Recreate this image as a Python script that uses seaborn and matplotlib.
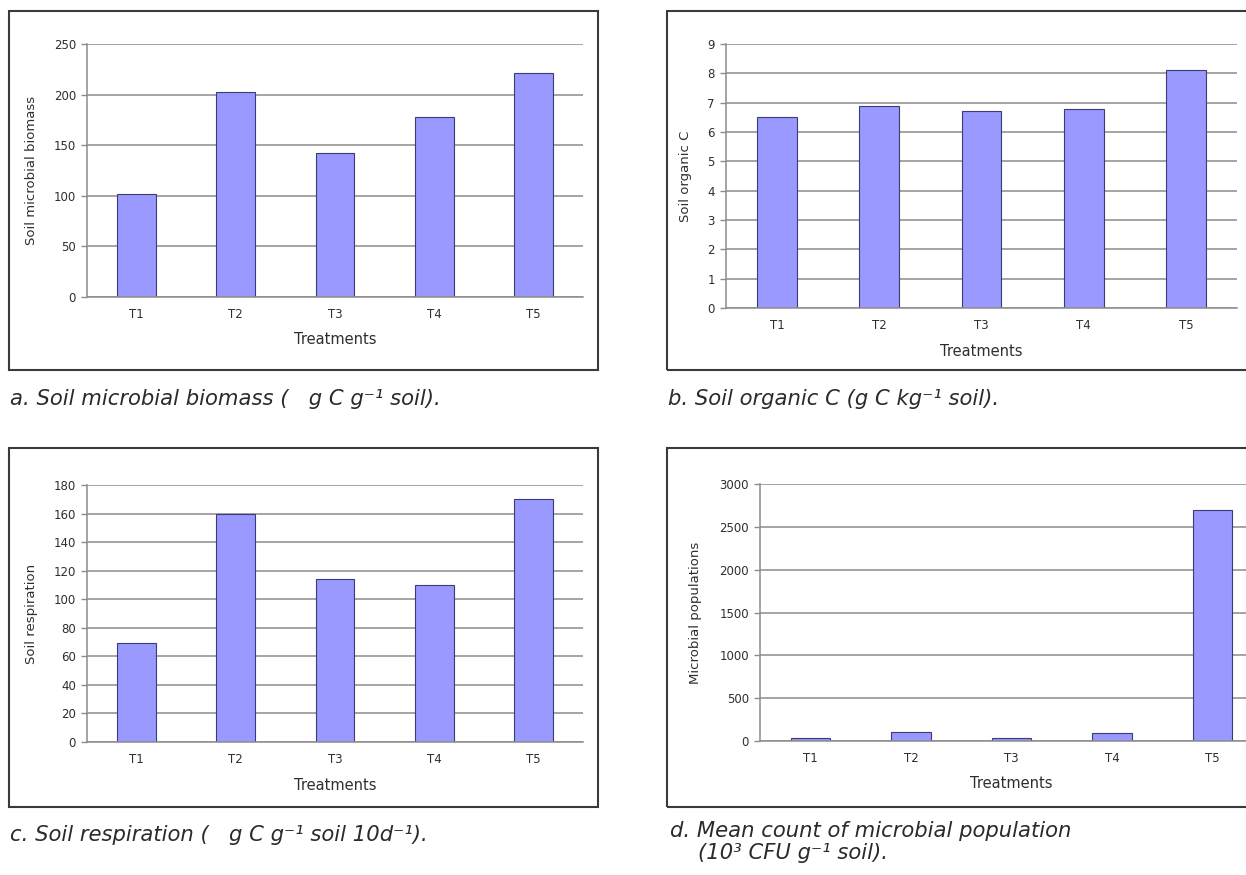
import os
import numpy as np
import pandas as pd
import seaborn as sns
import matplotlib
import matplotlib.pyplot as plt
from matplotlib.patches import Rectangle
from matplotlib.font_manager import FontProperties

# ---------------------------------------
# 1. Data
# ---------------------------------------
treatments = ["T1", "T2", "T3", "T4", "T5"]
biomass = [102, 203, 142, 178, 221]
organic_c = [6.5, 6.9, 6.7, 6.8, 8.1]
respiration = [69, 160, 114, 110, 170]
populations = [30, 100, 30, 90, 2700]

ylabels = ["Soil microbial biomass", "Soil organic C",
           "Soil respiration", "Microbial populations"]
ymax = [250, 9, 180, 3000]
ystep = [50, 1, 20, 500]

# caption lines (the blank before "g C" is the missing micro sign of the original)
captions = [
    ["a. Soil microbial biomass (   g C g\u207b\u00b9 soil)."],
    ["b. Soil organic C (g C kg\u207b\u00b9 soil)."],
    ["c. Soil respiration (   g C g\u207b\u00b9 soil 10d\u207b\u00b9)."],
    ["d. Mean count of microbial population",
     "(10\u00b3 CFU g\u207b\u00b9 soil)."],
]

# ---------------------------------------
# 2. Theme
# ---------------------------------------
sns.set_style("white")
plt.rcParams["font.family"] = ["DejaVu Sans"]

# italic caption font (DejaVu Sans Oblique shipped with matplotlib)
oblique = os.path.join(matplotlib.get_data_path(), "fonts", "ttf",
                       "DejaVuSans-Oblique.ttf")
if os.path.exists(oblique):
    cap_font = FontProperties(fname=oblique, size=15.2)
else:
    cap_font = FontProperties(family="DejaVu Sans", style="oblique", size=15.2)

W, H = 1246, 875
fig = plt.figure(figsize=(W / 100, H / 100), dpi=100)
fig.patch.set_facecolor("white")


def fx(px):
    return px / W


def fy(py):
    return 1 - py / H


# pixel layout of each panel: axes (left, right, top, bottom), frame box, captions
axes_px = [(87, 583, 44, 297), (726, 1237, 44, 308),
           (87, 583, 485, 742), (760, 1263, 484, 741)]
box_px = [(9, 11, 598, 370), (667, 11, 1400, 370),
          (9, 448, 598, 807), (667, 448, 1400, 807)]
ylabel_x = [32, 685, 32, 695]
xlabel_y = [340, 352, 785, 783]
caption_px = [[(10, 405)], [(668, 405)], [(10, 841)],
              [(670, 837), (698, 859)]]

BAR = "#9999ff"
EDGE = "#3b3b78"
GRID = "#8c8c8c"

series = [biomass, organic_c, respiration, populations]

for i in range(4):
    l, r, t, b = axes_px[i]
    ax = fig.add_axes([fx(l), fy(b), (r - l) / W, (b - t) / H])
    df = pd.DataFrame({"Treatment": treatments, "Value": series[i]})
    sns.barplot(data=df, x="Treatment", y="Value", color=BAR,
                edgecolor=EDGE, linewidth=0.8, width=0.39, saturation=1, ax=ax)

    ax.set_xlim(-0.5, 4.5)
    ax.set_ylim(0, ymax[i])
    ax.set_yticks(np.arange(0, ymax[i] + ystep[i] / 2, ystep[i]))
    ax.yaxis.grid(True, color=GRID, linewidth=1.1)
    ax.set_axisbelow(True)

    for s in ["top", "right"]:
        ax.spines[s].set_visible(False)
    for s in ["left", "bottom"]:
        ax.spines[s].set_color(GRID)
        ax.spines[s].set_linewidth(1.1)

    # Excel-style ticks between categories
    ax.set_xticks(np.arange(-0.5, 5, 1), minor=True)
    ax.tick_params(axis="x", which="major", length=0, pad=8,
                   labelsize=8.5, labelcolor="#2e2e2e")
    ax.tick_params(axis="x", which="minor", length=4, width=1, color=GRID,
                   direction="out")
    ax.tick_params(axis="y", length=4, width=1, color=GRID, direction="out",
                   pad=4, labelsize=8.5, labelcolor="#2e2e2e", left=True)

    ax.set_xlabel("Treatments", fontsize=10.5, color="#2e2e2e")
    ax.xaxis.label.set_va("center")
    ax.xaxis.set_label_coords(0.5, (b - xlabel_y[i]) / (b - t))

    ax.set_ylabel(ylabels[i], fontsize=9.5, color="#2e2e2e")
    ax.yaxis.label.set_va("center")
    ax.yaxis.set_label_coords((ylabel_x[i] - l) / (r - l), 0.5)

    # frame around the chart
    x0, y0, x1, y1 = box_px[i]
    fig.add_artist(Rectangle((fx(x0), fy(y1)), (x1 - x0) / W, (y1 - y0) / H,
                             transform=fig.transFigure, fill=False,
                             edgecolor="#3a3a3a", linewidth=1.5))

    # caption below
    for line, (cx, cy) in zip(captions[i], caption_px[i]):
        fig.text(fx(cx), fy(cy), line, ha="left", va="baseline",
                 fontproperties=cap_font, color="#2a2a2a")

fig.savefig("out.png", dpi=100)
